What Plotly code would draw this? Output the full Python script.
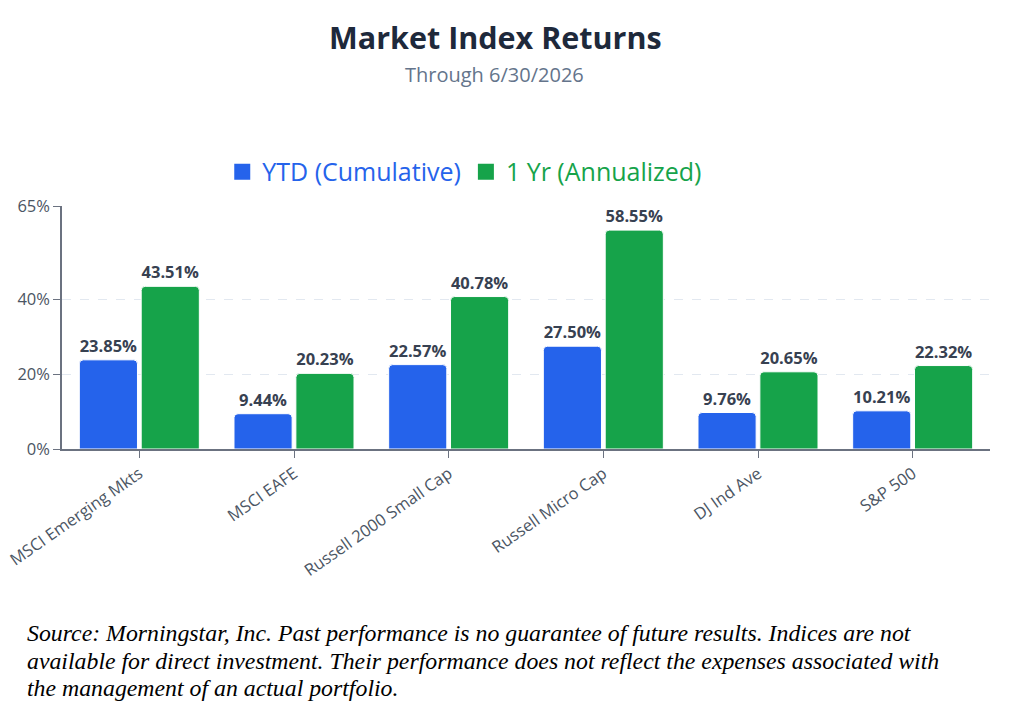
import plotly.graph_objects as go

categories = ["MSCI Emerging Mkts", "MSCI EAFE", "Russell 2000 Small Cap",
              "Russell Micro Cap", "DJ Ind Ave", "S&P 500"]
ytd = [23.85, 9.44, 22.57, 27.50, 9.76, 10.21]
one_yr = [43.51, 20.23, 40.78, 58.55, 20.65, 22.32]
y_ticks = [0, 20, 40, 65]
y_tick_text = ["0%", "20%", "40%", "65%"]
source_lines = [
    "Source: Morningstar, Inc. Past performance is no guarantee of future results. Indices are not",
    "available for direct investment. Their performance does not reflect the expenses associated with",
    "the management of an actual portfolio.",
]

blue = "#2563eb"
green = "#16a34a"
font = "Open Sans"
label_font = dict(family=font, size=16.5, color="#374151", weight="bold")

fig = go.Figure()
# bars (legend drawn by the square-marker traces below)
for vals, color in [(ytd, blue), (one_yr, green)]:
    fig.add_trace(go.Bar(
        x=categories, y=vals, showlegend=False,
        marker=dict(color=color, cornerradius=4, line=dict(color="white", width=1)),
        texttemplate="%{y:.2f}%", textposition="outside", cliponaxis=False,
        textfont=label_font,
    ))
for name, color in [("YTD (Cumulative)", blue), ("1 Yr (Annualized)", green)]:
    fig.add_trace(go.Scatter(
        x=[None], y=[None], mode="markers",
        name="<span style='color:%s'>%s</span>" % (color, name),
        marker=dict(symbol="square", size=19, color=color),
    ))

annotations = [
    dict(text="<b>Market Index Returns</b>", xref="paper", yref="paper",
         x=0.4666, y=1.695, xanchor="center", yanchor="middle", showarrow=False,
         font=dict(family=font, size=30.5, color="#1e293b")),
    dict(text="Through 6/30/2026", xref="paper", yref="paper",
         x=0.466, y=1.543, xanchor="center", yanchor="middle", showarrow=False,
         font=dict(family=font, size=20, color="#64748b")),
]
for i, line in enumerate(source_lines):
    annotations.append(dict(
        text=line, xref="paper", yref="paper", x=-0.04, y=-0.757 - 0.1135 * i,
        xanchor="left", yanchor="middle", align="left", showarrow=False,
        font=dict(family="Liberation Serif", size=23.8, color="black", style="italic")))

fig.update_layout(
    width=1030, height=718,
    margin=dict(l=54, r=48, t=198, b=277),
    paper_bgcolor="white", plot_bgcolor="white",
    font=dict(family=font, color="#4b5563"),
    barmode="group", bargap=0.2, bargroupgap=0.06,
    legend=dict(orientation="h", x=0.434, xanchor="center", y=1.14, yanchor="middle",
                font=dict(family=font, size=25), itemwidth=30, traceorder="normal"),
    xaxis=dict(showline=True, linecolor="#6b7280", linewidth=1.5, ticks="outside",
               tickcolor="#6b7280", ticklen=7, tickangle=-35, automargin=False,
               tickfont=dict(family=font, size=16.5, color="#4b5563")),
    yaxis=dict(range=[0, 65], tickvals=y_ticks, ticktext=y_tick_text,
               showline=True, linecolor="#6b7280", linewidth=1.5, ticks="outside",
               tickcolor="#6b7280", ticklen=7, zeroline=False, automargin=False,
               showgrid=True, gridcolor="#e2e8f0", griddash="dash",
               tickfont=dict(family=font, size=16.5, color="#4b5563")),
    annotations=annotations,
)

fig.write_html("out.html")
